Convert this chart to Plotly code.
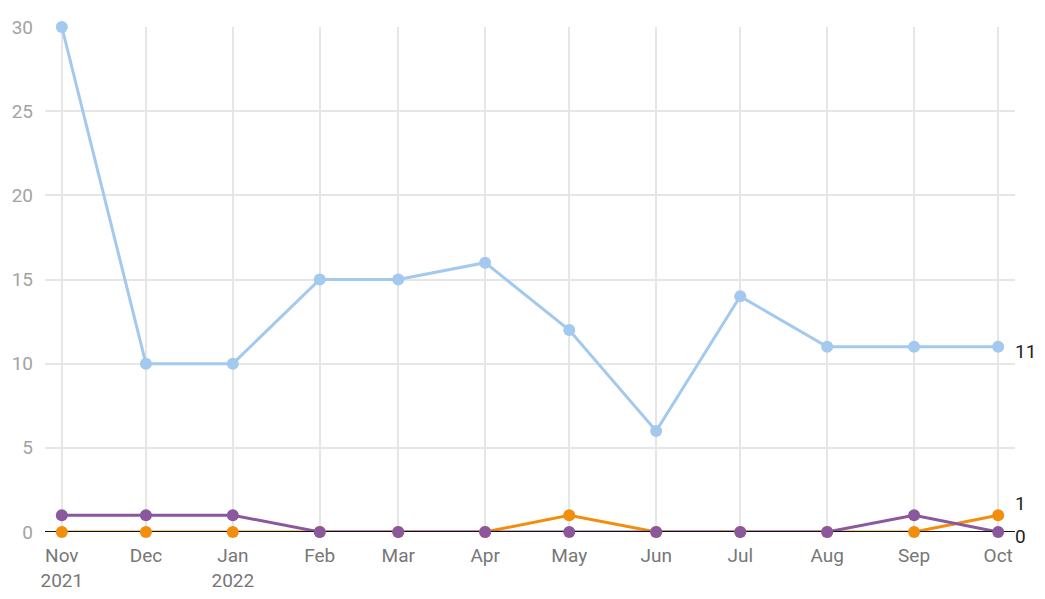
import plotly.graph_objects as go

months = ["2021-11-01", "2021-12-01", "2022-01-01", "2022-02-01", "2022-03-01", "2022-04-01",
          "2022-05-01", "2022-06-01", "2022-07-01", "2022-08-01", "2022-09-01", "2022-10-01"]
tick_labels = ["Nov<br>2021", "Dec", "Jan<br>2022", "Feb", "Mar", "Apr",
               "May", "Jun", "Jul", "Aug", "Sep", "Oct"]

blue_values = [30, 10, 10, 15, 15, 16, 12, 6, 14, 11, 11, 11]
orange_values = [0, 0, 0, 0, 0, 0, 1, 0, 0, 0, 0, 1]
purple_values = [1, 1, 1, 0, 0, 0, 0, 0, 0, 0, 1, 0]

x_range = ["2021-10-26", "2022-10-07"]

# (values, colour, vertical nudge of the end label in px)
series = [
    (blue_values, "#a3c9ef", -5),
    (orange_values, "#f28e0c", 12),
    (purple_values, "#8b579d", -4),
]

fig = go.Figure()

# lines first, then the black baseline, then the markers on top
for values, color, _ in series:
    fig.add_trace(go.Scatter(
        x=months, y=values, mode="lines",
        line=dict(color=color, width=3),
        cliponaxis=False, showlegend=False, hoverinfo="skip",
    ))

fig.add_trace(go.Scatter(
    x=x_range, y=[0, 0], mode="lines",
    line=dict(color="#111111", width=2),
    cliponaxis=False, showlegend=False, hoverinfo="skip",
))

for values, color, shift in series:
    fig.add_trace(go.Scatter(
        x=months, y=values, mode="markers",
        marker=dict(color=color, size=12),
        cliponaxis=False, showlegend=False,
    ))
    fig.add_annotation(
        x=months[-1], y=values[-1], text=str(values[-1]),
        xref="x", yref="y", xanchor="left", yanchor="middle",
        xshift=15, yshift=shift, showarrow=False,
        font=dict(size=19, color="#222222"),
    )

fig.update_xaxes(
    type="date",
    range=x_range,
    tickvals=months, ticktext=tick_labels,
    showgrid=True, gridcolor="#e6e6e6", gridwidth=1.5,
    zeroline=False, showline=False, ticks="",
    ticklabelstandoff=10, automargin=False,
    tickfont=dict(size=19, color="#777777"),
)
fig.update_yaxes(
    range=[0, 30], dtick=5,
    showgrid=True, gridcolor="#e6e6e6", gridwidth=1.5,
    zeroline=False, ticks="", ticklabelstandoff=11, automargin=False,
    tickfont=dict(size=19, color="#a3a3a3"),
)
fig.update_layout(
    width=1045, height=599,
    margin=dict(l=37, r=38, t=19, b=75),
    plot_bgcolor="white", paper_bgcolor="white",
    font=dict(family="Roboto"),
)

fig.write_html("out.html")
